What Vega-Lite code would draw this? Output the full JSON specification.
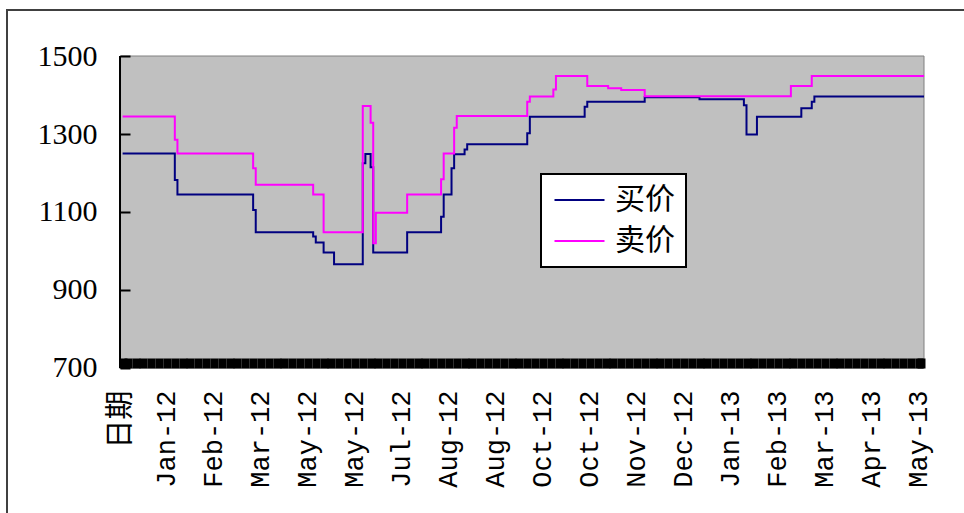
{
  "$schema": "https://vega.github.io/schema/vega-lite/v6.json",
  "width": 967,
  "height": 513,
  "autosize": {"type": "none"},
  "padding": {"left": 7, "top": 10, "right": -10, "bottom": -10},
  "background": "white",
  "config": {
    "view": {"stroke": "#404040", "strokeWidth": 2},
    "legend": {"strokeWidth": 2}
  },
  "datasets": {
    "plot": [{"i": 0, "i2": 308, "v": 700, "v2": 1500}],
    "prices": [
      {"i": 1, "v": 1250, "s": "买价"}, {"i": 21, "v": 1182, "s": "买价"}, {"i": 22, "v": 1145, "s": "买价"},
      {"i": 51, "v": 1105, "s": "买价"}, {"i": 52, "v": 1048, "s": "买价"}, {"i": 74, "v": 1037, "s": "买价"},
      {"i": 75, "v": 1022, "s": "买价"}, {"i": 78, "v": 996, "s": "买价"}, {"i": 82, "v": 966, "s": "买价"},
      {"i": 93, "v": 1225, "s": "买价"}, {"i": 94, "v": 1249, "s": "买价"}, {"i": 96, "v": 1215, "s": "买价"},
      {"i": 97, "v": 996, "s": "买价"}, {"i": 110, "v": 1048, "s": "买价"}, {"i": 123, "v": 1088, "s": "买价"},
      {"i": 124, "v": 1145, "s": "买价"}, {"i": 127, "v": 1212, "s": "买价"}, {"i": 128, "v": 1248, "s": "买价"},
      {"i": 132, "v": 1260, "s": "买价"}, {"i": 133, "v": 1274, "s": "买价"}, {"i": 156, "v": 1302, "s": "买价"},
      {"i": 157, "v": 1344, "s": "买价"}, {"i": 178, "v": 1370, "s": "买价"}, {"i": 179, "v": 1383, "s": "买价"},
      {"i": 201, "v": 1394, "s": "买价"}, {"i": 222, "v": 1389, "s": "买价"}, {"i": 239, "v": 1374, "s": "买价"},
      {"i": 240, "v": 1299, "s": "买价"}, {"i": 244, "v": 1344, "s": "买价"}, {"i": 261, "v": 1366, "s": "买价"},
      {"i": 265, "v": 1383, "s": "买价"}, {"i": 266, "v": 1396, "s": "买价"}, {"i": 308, "v": 1396, "s": "买价"},
      {"i": 1, "v": 1345, "s": "卖价"}, {"i": 21, "v": 1285, "s": "卖价"}, {"i": 22, "v": 1250, "s": "卖价"},
      {"i": 51, "v": 1212, "s": "卖价"}, {"i": 52, "v": 1170, "s": "卖价"}, {"i": 74, "v": 1145, "s": "卖价"},
      {"i": 78, "v": 1048, "s": "卖价"}, {"i": 93, "v": 1372, "s": "卖价"}, {"i": 96, "v": 1329, "s": "卖价"},
      {"i": 97, "v": 1020, "s": "卖价"}, {"i": 98, "v": 1098, "s": "卖价"}, {"i": 110, "v": 1145, "s": "卖价"},
      {"i": 123, "v": 1184, "s": "卖价"}, {"i": 124, "v": 1250, "s": "卖价"}, {"i": 128, "v": 1316, "s": "卖价"},
      {"i": 129, "v": 1346, "s": "卖价"}, {"i": 156, "v": 1383, "s": "卖价"}, {"i": 157, "v": 1396, "s": "卖价"},
      {"i": 166, "v": 1414, "s": "卖价"}, {"i": 167, "v": 1449, "s": "卖价"}, {"i": 179, "v": 1423, "s": "卖价"},
      {"i": 187, "v": 1417, "s": "卖价"}, {"i": 192, "v": 1413, "s": "卖价"}, {"i": 201, "v": 1397, "s": "卖价"},
      {"i": 257, "v": 1423, "s": "卖价"}, {"i": 265, "v": 1449, "s": "卖价"}, {"i": 308, "v": 1449, "s": "卖价"}
    ]
  },
  "encoding": {
    "x": {
      "field": "i", "type": "quantitative",
      "scale": {"domain": [-43.29, 327.15], "nice": false, "zero": false},
      "axis": {
        "values": [0,1,3,6,9,12,15,18,21,24,27,30,33,36,39,42,45,48,51,54,57,60,63,66,69,72,75,78,81,84,87,90,93,96,99,102,105,108,111,114,117,120,123,126,129,132,135,138,141,144,147,150,153,156,159,162,165,168,171,174,177,180,183,186,189,192,195,198,201,204,207,210,213,216,219,222,225,228,231,234,237,240,243,246,249,252,255,258,261,264,267,270,273,276,279,282,285,288,291,294,297,300,303,306,307],
        "offset": -155,
        "domain": false,
        "grid": false,
        "tickSize": -10,
        "tickWidth": 8,
        "tickColor": "black",
        "tickOpacity": {"condition": {"test": "datum.value === 0", "value": 0}, "value": 1},
        "labelAngle": 270,
        "labelExpr": "datum.value % 18 === 0 ? ['日期','Jan-12','Feb-12','Mar-12','May-12','May-12','Jul-12','Aug-12','Aug-12','Oct-12','Oct-12','Nov-12','Dec-12','Jan-13','Feb-13','Mar-13','Apr-13','May-13'][datum.value / 18] : ''",
        "labelOverlap": false,
        "labelBound": false,
        "labelFlush": false,
        "labelFont": {"condition": {"test": "datum.value === 0", "value": "Noto Sans CJK SC"}, "value": "Liberation Mono"},
        "labelFontSize": {"condition": {"test": "datum.value === 0", "value": 29}, "value": 27},
        "labelColor": "black",
        "labelPadding": 32,
        "title": null,
        "zindex": 1
      }
    },
    "y": {
      "field": "v", "type": "quantitative",
      "scale": {"domain": [302.56, 1617.95], "nice": false, "zero": false},
      "axis": {
        "values": [700, 900, 1100, 1300, 1500],
        "format": "d",
        "offset": -113,
        "domain": false,
        "grid": false,
        "tickSize": -10,
        "tickWidth": 2,
        "tickColor": "black",
        "labelFont": "Liberation Serif",
        "labelFontSize": 30,
        "labelColor": "black",
        "labelPadding": 33,
        "title": null,
        "zindex": 1
      }
    }
  },
  "layer": [
    {
      "data": {"name": "plot"},
      "mark": {"type": "rect", "fill": "#c0c0c0", "stroke": "#808080", "strokeWidth": 1},
      "encoding": {
        "x2": {"field": "i2"},
        "y2": {"field": "v2"}
      }
    },
    {
      "data": {"name": "prices"},
      "mark": {"type": "line", "interpolate": "step-after", "strokeWidth": 2},
      "encoding": {
        "color": {
          "field": "s", "type": "nominal",
          "scale": {"domain": ["买价", "卖价"], "range": ["#000080", "#ff00ff"]},
          "legend": {
            "title": null,
            "orient": "none",
            "legendX": 534,
            "legendY": 164,
            "fillColor": "white",
            "strokeColor": "black",
            "padding": 11,
            "symbolType": "M-1,0H3",
            "symbolSize": 625,
            "symbolStrokeWidth": 2,
            "labelOffset": 33,
            "labelFont": "Noto Sans CJK SC",
            "labelFontSize": 30,
            "labelColor": "black",
            "rowPadding": 11
          }
        }
      }
    },
    {
      "data": {"name": "plot"},
      "mark": {"type": "rule", "color": "black", "strokeWidth": 2},
      "encoding": {
        "y2": {"field": "v2"}
      }
    }
  ]
}
